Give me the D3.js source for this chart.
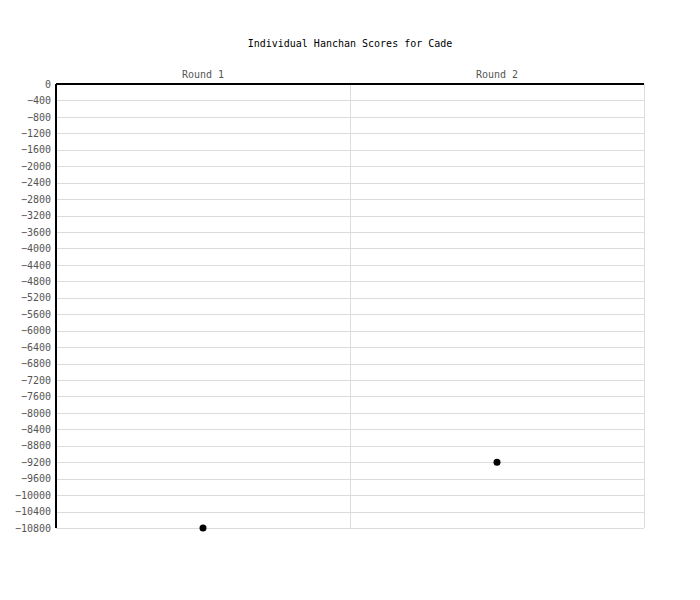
<!DOCTYPE html>
<html>
<head>
<meta charset="utf-8">
<script src="https://cdn.jsdelivr.net/npm/d3@7"></script>
<style>
    body { margin: 0; background: #fff; }
    svg { font-family: "DejaVu Sans Mono", "Liberation Mono", monospace; }
    .graphtitle { font-size: 10px; fill: #000; }
    .ticklabel { font-size: 10px; fill: #555; }
    .grid line { stroke: #dcdcdc; stroke-width: 1; shape-rendering: crispEdges; }
    .frame { stroke: #000; stroke-width: 1.5; shape-rendering: crispEdges; }
</style>
</head>
<body>
<svg id="chart" width="700" height="600"></svg>
<script>
const rounds = ["Round 1", "Round 2"];
const scores = [-10800, -9200];
const yTicks = d3.range(0, -10801, -400);

let g = d3.select("#chart");

g.append("text").attr("class", "graphtitle").attr("x", 350).attr("y", 47)
    .attr("text-anchor", "middle").text("Individual Hanchan Scores for Cade");

let xScale = d3.scaleBand().domain(rounds).range([56, 644]);
let yScale = d3.scaleLinear().domain([-10800, 0]).range([528, 84]);

// horizontal gridlines
let grid = g.append("g").attr("class", "grid");
grid.selectAll("line.h").data(yTicks).join("line").attr("class", "h")
    .attr("x1", 56).attr("x2", 644)
    .attr("y1", d => Math.round(yScale(d)) + 0.5).attr("y2", d => Math.round(yScale(d)) + 0.5);
// vertical gridlines at band edges
grid.selectAll("line.v").data(rounds).join("line").attr("class", "v")
    .attr("x1", d => xScale(d) + xScale.bandwidth() + 0.5)
    .attr("x2", d => xScale(d) + xScale.bandwidth() + 0.5)
    .attr("y1", 84).attr("y2", 528);

// y axis labels
let yAxis = d3.axisLeft(yScale).tickValues(yTicks).tickSize(0).tickPadding(5)
    .tickFormat(d => d === 0 ? "0" : "\u2212" + Math.abs(d));
let y = g.append("g").attr("transform", "translate(56,0)").call(yAxis)
    .attr("font-family", null).attr("font-size", null);
y.select(".domain").remove();
y.selectAll("text").attr("class", "ticklabel").attr("fill", null);

// x axis labels on top
let xAxis = d3.axisTop(xScale).tickSize(0).tickPadding(6);
let x = g.append("g").attr("transform", "translate(0,84)").call(xAxis)
    .attr("font-family", null).attr("font-size", null);
x.select(".domain").remove();
x.selectAll("text").attr("class", "ticklabel").attr("fill", null);

// frame: top and left in black
g.append("line").attr("class", "frame").attr("x1", 56).attr("x2", 644).attr("y1", 84).attr("y2", 84);
g.append("line").attr("class", "frame").attr("x1", 56).attr("x2", 56).attr("y1", 84).attr("y2", 528);

// points
g.selectAll("circle").data(rounds).join("circle")
    .attr("cx", d => xScale(d) + xScale.bandwidth() / 2)
    .attr("cy", (d, i) => yScale(scores[i]))
    .attr("r", 3.5)
    .attr("fill", "#000");
</script>
</body>
</html>
